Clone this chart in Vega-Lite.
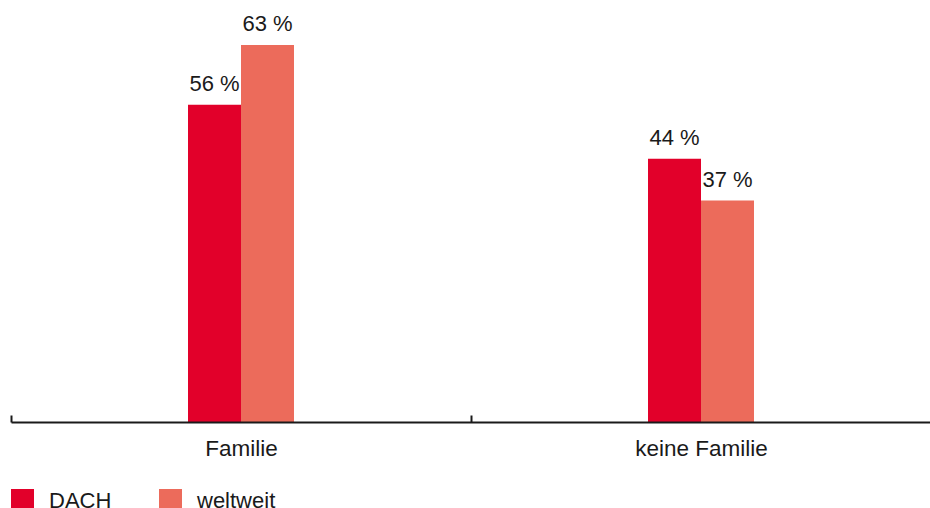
{
  "$schema": "https://vega.github.io/schema/vega-lite/v6.json",
  "autosize": {"type": "none"},
  "padding": {"left": 11, "top": 3, "right": 0, "bottom": 86},
  "width": 920,
  "height": 419,
  "config": {
    "view": {"stroke": null},
    "font": "Liberation Sans"
  },
  "data": {
    "values": [
      {"kategorie": "Familie", "region": "DACH", "wert": 53, "label": "56 %"},
      {"kategorie": "Familie", "region": "weltweit", "wert": 63, "label": "63 %"},
      {"kategorie": "keine Familie", "region": "DACH", "wert": 44, "label": "44 %"},
      {"kategorie": "keine Familie", "region": "weltweit", "wert": 37, "label": "37 %"}
    ]
  },
  "encoding": {
    "x": {
      "field": "kategorie", "type": "nominal",
      "scale": {"paddingInner": 0, "paddingOuter": 0},
      "axis": {
        "title": null, "labelAngle": 0, "labelFontSize": 22.5, "labelColor": "#1a1a1a",
        "labelFont": "Liberation Sans", "labelPadding": 22,
        "domainColor": "#1a1a1a", "domainWidth": 2,
        "tickBand": "extent", "tickSize": -7, "tickWidth": 2, "tickColor": "#1a1a1a",
        "zindex": 1
      }
    },
    "xOffset": {
      "field": "region", "type": "nominal",
      "scale": {"domain": ["p1", "p2", "p3", "DACH", "weltweit", "p4", "p5", "p6"], "paddingOuter": 0.34, "paddingInner": 0}
    },
    "y": {"field": "wert", "type": "quantitative", "scale": {"domain": [0, 70]}, "axis": null}
  },
  "layer": [
    {
      "mark": {"type": "bar"},
      "encoding": {
        "color": {
          "field": "region", "type": "nominal",
          "scale": {"domain": ["DACH", "weltweit"], "range": ["#E2002A", "#EC6B5B"]},
          "legend": {
            "title": null, "orient": "bottom", "direction": "horizontal",
            "symbolType": "square", "symbolSize": 529, "symbolStrokeWidth": 0, "symbolOpacity": 1,
            "labelFontSize": 22, "labelColor": "#1a1a1a", "labelFont": "Liberation Sans",
            "labelOffset": 15, "columnPadding": 47, "offset": 29
          }
        }
      }
    },
    {
      "mark": {"type": "text", "dy": -14, "baseline": "alphabetic", "align": "center", "fontSize": 22, "color": "#1a1a1a"},
      "encoding": {"text": {"field": "label"}}
    }
  ]
}
